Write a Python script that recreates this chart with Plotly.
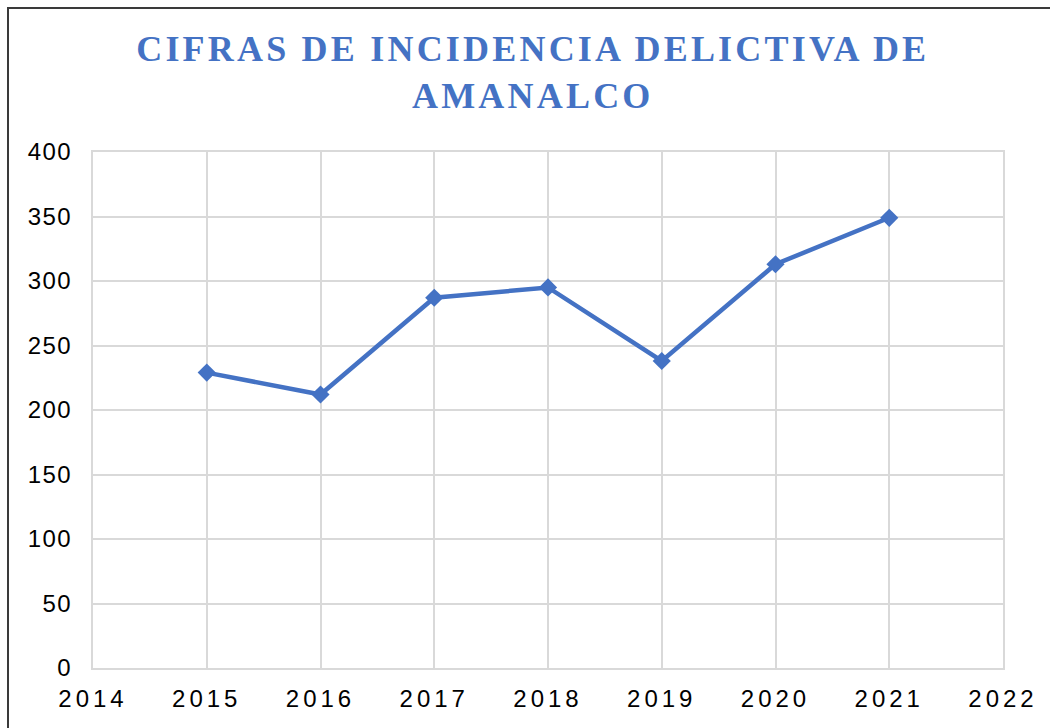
import plotly.graph_objects as go

# Annual crime-incidence figures for Amanalco
years = [2015, 2016, 2017, 2018, 2019, 2020, 2021]
incidencia = [229, 212, 287, 295, 238, 313, 349]
x_ticks = list(range(2014, 2023))
y_ticks = list(range(0, 401, 50))
title_lines = ["CIFRAS DE INCIDENCIA DELICTIVA DE", "AMANALCO"]

BLUE = "#4472C4"
GRID = "#D9D9D9"
W, H = 1050, 728
L, R, T, B = 93, 47, 152, 60
pw, ph = W - L - R, H - T - B


def px(x):
    return (x - L) / pw


def py(y):
    return (H - B - y) / ph


fig = go.Figure(
    go.Scatter(
        x=years,
        y=incidencia,
        mode="lines+markers",
        line=dict(color=BLUE, width=4.5),
        marker=dict(symbol="diamond", size=14, color=BLUE),
        showlegend=False,
        hoverinfo="skip",
    )
)

axis_font = dict(family="Liberation Sans, Arial, sans-serif", size=24, color="#000000")

fig.update_layout(
    width=W,
    height=H,
    autosize=False,
    margin=dict(l=L, r=R, t=T, b=B),
    paper_bgcolor="white",
    plot_bgcolor="white",
    xaxis=dict(
        range=[2014, 2022],
        tickmode="array",
        tickvals=x_ticks,
        ticktext=[str(v) for v in x_ticks],
        showgrid=True,
        gridcolor=GRID,
        gridwidth=2,
        zeroline=False,
        showline=True,
        linecolor=GRID,
        linewidth=2,
        mirror=True,
        ticks="",
        tickfont=axis_font,
        ticklabelstandoff=8,
        fixedrange=True,
    ),
    yaxis=dict(
        range=[0, 400],
        tickmode="array",
        tickvals=y_ticks,
        showgrid=True,
        gridcolor=GRID,
        gridwidth=2,
        zeroline=False,
        showline=True,
        linecolor=GRID,
        linewidth=2,
        mirror=True,
        ticks="",
        tickfont=axis_font,
        ticklabelstandoff=14,
        fixedrange=True,
    ),
    annotations=[
        dict(
            text="<br>".join(title_lines),
            x=px(533),
            y=py(27),
            xref="paper",
            yref="paper",
            xanchor="center",
            yanchor="top",
            showarrow=False,
            font=dict(family="Liberation Serif, Times New Roman, serif", size=36, color=BLUE, weight="bold"),
        )
    ],
    shapes=[
        dict(
            type="rect",
            xref="paper",
            yref="paper",
            x0=px(8),
            x1=px(1070),
            y0=py(760),
            y1=py(8),
            line=dict(color="#3A3A3A", width=2),
            fillcolor="rgba(0,0,0,0)",
            layer="above",
        )
    ],
)

spacing_css = (
    "var s=document.createElement('style');"
    "s.textContent='.xtick text{letter-spacing:4px}"
    ".ytick text{letter-spacing:1.5px}"
    ".annotation-text{letter-spacing:3.2px}';"
    "document.head.appendChild(s);"
)

fig.write_html("out.html", config={"displayModeBar": False, "staticPlot": True}, post_script=spacing_css)
